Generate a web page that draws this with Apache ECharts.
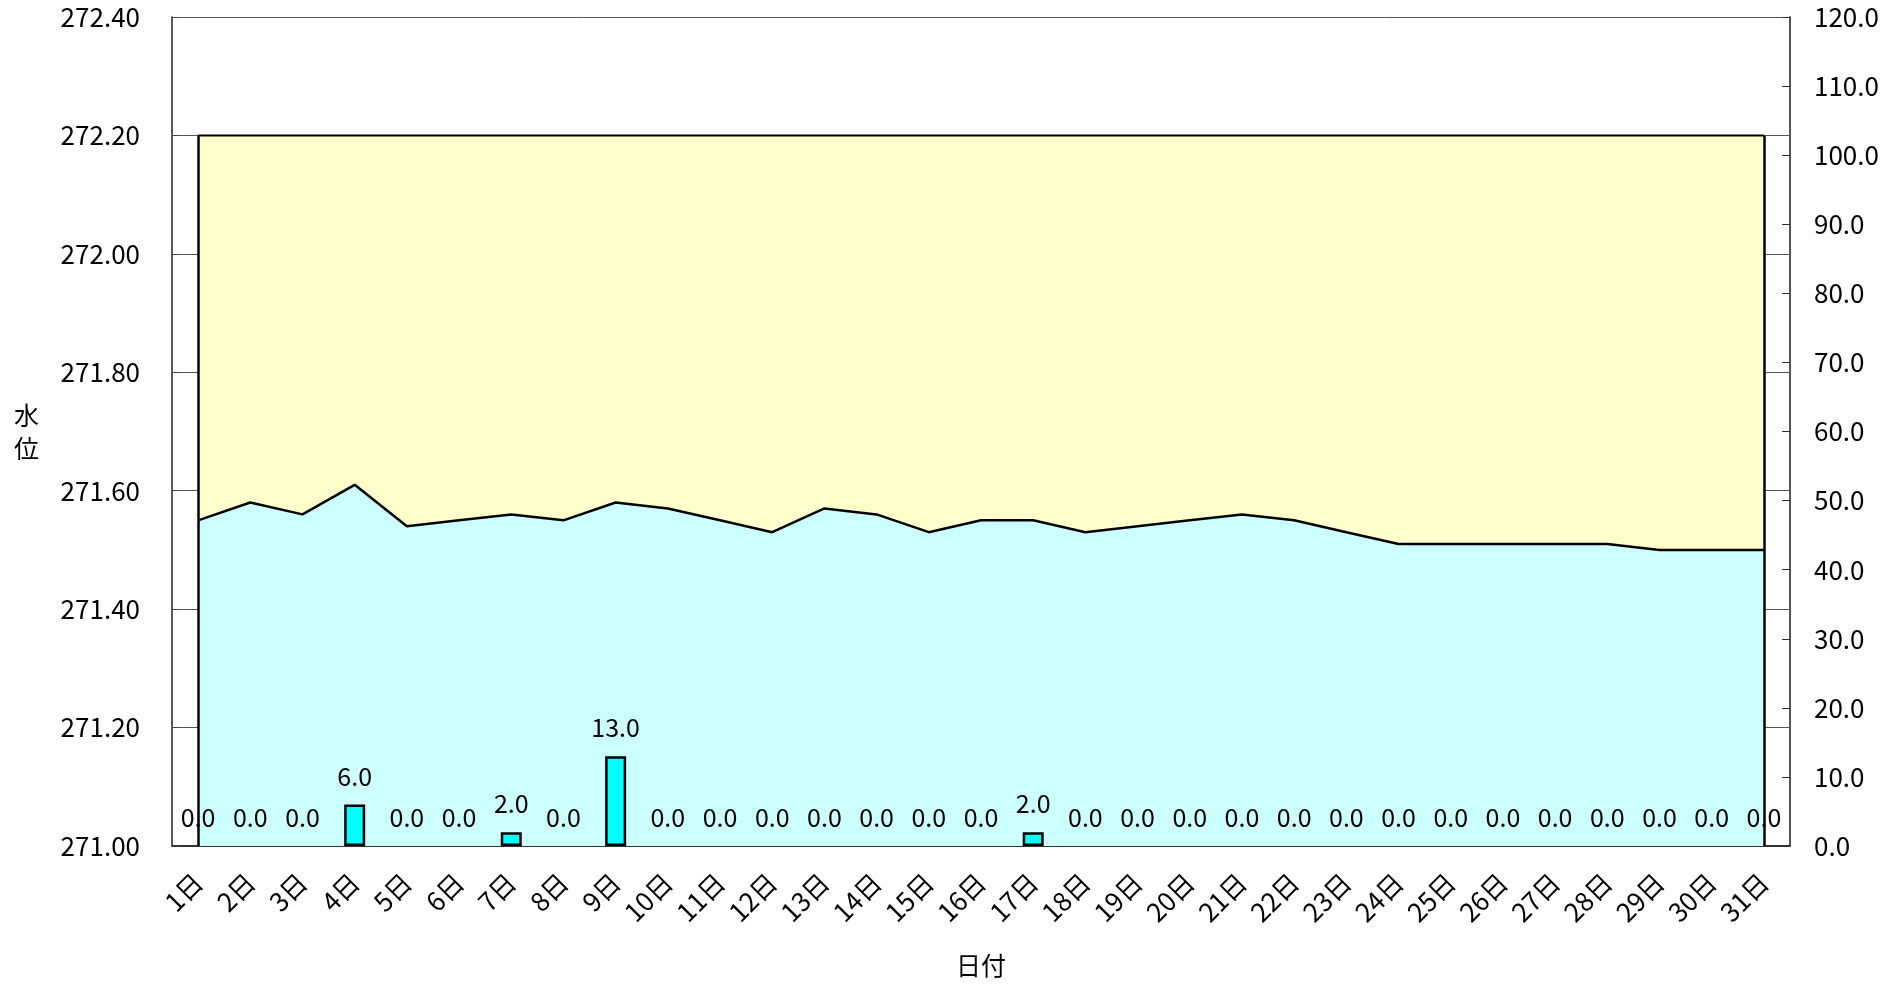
<!DOCTYPE html>
<html>
<head>
<meta charset="utf-8">
<script src="https://cdn.jsdelivr.net/npm/echarts@6/dist/echarts.min.js"></script>
<style>
html,body{margin:0;padding:0;background:#fff;}
#chart{width:1903px;height:986px;}
</style>
</head>
<body>
<div id="chart"></div>
<script>
const days = ['1日','2日','3日','4日','5日','6日','7日','8日','9日','10日','11日','12日','13日','14日','15日','16日','17日','18日','19日','20日','21日','22日','23日','24日','25日','26日','27日','28日','29日','30日','31日'];
const waterLevel = [271.55,271.58,271.56,271.61,271.54,271.55,271.56,271.55,271.58,271.57,271.55,271.53,271.57,271.56,271.53,271.55,271.55,271.53,271.54,271.55,271.56,271.55,271.53,271.51,271.51,271.51,271.51,271.51,271.50,271.50,271.50];
const upperLevel = [272.20,272.20,272.20,272.20,272.20,272.20,272.20,272.20,272.20,272.20,272.20,272.20,272.20,272.20,272.20,272.20,272.20,272.20,272.20,272.20,272.20,272.20,272.20,272.20,272.20,272.20,272.20,272.20,272.20,272.20,272.20];
const rainfall = [0,0,0,6,0,0,2,0,13,0,0,0,0,0,0,0,2,0,0,0,0,0,0,0,0,0,0,0,0,0,0];
const levelAxis = {min:271.0, max:272.4, interval:0.2};
const rainAxis = {min:0, max:120, interval:10};

const FONT = '"Noto Sans CJK JP", "Noto Sans", sans-serif';
const chart = echarts.init(document.getElementById('chart'));
const last = days.length - 1;
const rainData = rainfall.map(v => v > 0 ? v : {value:v, itemStyle:{borderWidth:0}});
chart.setOption({
  animation:false,
  textStyle:{fontFamily:FONT},
  grid:{left:172, right:113, top:17, bottom:140},
  xAxis:{
    type:'category', data:days, boundaryGap:true,
    name:'日付', nameLocation:'middle', nameGap:107,
    nameTextStyle:{fontSize:25, color:'#000', fontFamily:FONT},
    axisLine:{lineStyle:{color:'#333', width:2}},
    axisTick:{inside:true, length:7, lineStyle:{color:'#444'}},
    axisLabel:{rotate:45, fontSize:26, color:'#000', margin:32, interval:0, fontFamily:FONT},
    splitLine:{show:false}
  },
  yAxis:[{
    type:'value', min:levelAxis.min, max:levelAxis.max, interval:levelAxis.interval,
    name:'水\n位', nameLocation:'middle', nameRotate:0, nameGap:133,
    nameTextStyle:{fontSize:25, color:'#000', lineHeight:33, padding:[12,0,0,0], fontFamily:FONT},
    axisLine:{show:true, lineStyle:{color:'#222', width:1.5}},
    axisTick:{show:true, inside:true, length:7, lineStyle:{color:'#444'}},
    axisLabel:{fontSize:26, color:'#000', margin:32, formatter:v=>v.toFixed(2), fontFamily:FONT},
    splitLine:{show:true, lineStyle:{color:'#555', width:1}}
  },{
    type:'value', min:rainAxis.min, max:rainAxis.max, interval:rainAxis.interval,
    position:'right',
    axisLine:{show:true, lineStyle:{color:'#555', width:2}},
    axisTick:{show:true, inside:true, length:8, lineStyle:{color:'#333'}},
    axisLabel:{fontSize:26, color:'#000', margin:24, formatter:v=>v.toFixed(1), fontFamily:FONT},
    splitLine:{show:false}
  }],
  series:[{
    name:'上限', type:'line', data:upperLevel, yAxisIndex:0, symbol:'none', z:2,
    lineStyle:{color:'#000', width:2},
    areaStyle:{color:'#FFFFCC', opacity:1, origin:'start'},
    markLine:{
      silent:true, symbol:'none', label:{show:false},
      lineStyle:{color:'#000', width:2.5, type:'solid'},
      data:[
        [{coord:[days[0], levelAxis.min]},{coord:[days[0], upperLevel[0]]}],
        [{coord:[days[last], levelAxis.min]},{coord:[days[last], upperLevel[last]]}]
      ]
    }
  },{
    name:'水位', type:'line', data:waterLevel, yAxisIndex:0, symbol:'none', z:3,
    lineStyle:{color:'#000', width:2.5},
    areaStyle:{color:'#CCFFFF', opacity:1, origin:'start'}
  },{
    name:'雨量', type:'bar', data:rainData, yAxisIndex:1, barWidth:21, z:4,
    itemStyle:{color:'#00FFFF', borderColor:'#000', borderWidth:2.5},
    label:{show:true, position:'top', distance:16, fontSize:25, color:'#000', formatter:p=>Number(p.value).toFixed(1), fontFamily:FONT}
  }]
});
</script>
</body>
</html>
